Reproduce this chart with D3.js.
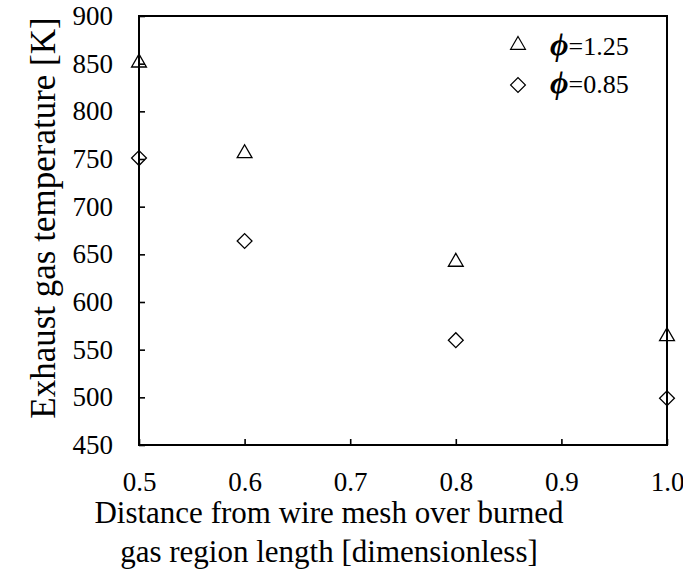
<!DOCTYPE html>
<html lang="en">
<head>
  <meta charset="UTF-8">
  <title>exhaust gas temperature</title>
  <style>
    body { margin: 0; background: #fff; }
    svg text { font-family: "Times New Roman", "Liberation Serif", "DejaVu Serif", serif; fill: #000; }
  </style>
</head>
<body>
<script src="https://cdn.jsdelivr.net/npm/d3@7"></script>
<script>
  // data
  var distance = [0.5, 0.6, 0.8, 1.0];
  var phi125 = [851, 756, 642, 564];
  var phi085 = [751, 664, 560, 499];
  var xTicks = [0.5, 0.6, 0.7, 0.8, 0.9, 1.0];
  var yTicks = [450, 500, 550, 600, 650, 700, 750, 800, 850, 900];
  var legendLabels = ["=1.25", "=0.85"];

  var serif = '"Times New Roman", "Liberation Serif", "DejaVu Serif", serif';

  var margin = {top: 16, right: 16, bottom: 131, left: 139}
  , width = 683 - margin.left - margin.right
  , height = 576 - margin.top - margin.bottom;

  var xScale = d3.scaleLinear().domain([0.5, 1.0]).range([0, width]);
  var yScale = d3.scaleLinear().domain([450, 900]).range([height, 0]);

  var svg = d3.select("body").append("svg")
    .attr("width", 683).attr("height", 576)
    .attr("font-family", serif)
    .append("g")
    .attr("transform", "translate(" + margin.left + "," + margin.top + ")");

  // frame
  svg.append("rect")
    .attr("width", width).attr("height", height)
    .attr("fill", "none").attr("stroke", "#000").attr("stroke-width", 2);

  var xAxis = svg.append("g")
    .attr("transform", "translate(0," + height + ")")
    .call(d3.axisBottom(xScale).tickValues(xTicks).tickSize(-6).tickPadding(27)
      .tickFormat(d3.format(".1f")));
  var yAxis = svg.append("g")
    .call(d3.axisLeft(yScale).tickValues(yTicks).tickSize(-6).tickPadding(26));

  [xAxis, yAxis].forEach(function(a){
    a.attr("font-family", serif).attr("font-size", 27);
    a.select(".domain").remove();
    a.selectAll("line").attr("stroke", "#000").attr("stroke-width", 1.6);
    a.selectAll("text").attr("font-family", serif).attr("font-size", 27);
  });

  var tri = d3.symbol().type(d3.symbolTriangle).size(95);
  var dia = d3.symbol().type(d3.symbolSquare).size(110);

  svg.selectAll(".tri").data(phi125).enter().append("path")
    .attr("class", "tri")
    .attr("d", tri)
    .attr("transform", function(d, i){ return "translate(" + xScale(distance[i]) + "," + yScale(d) + ")"; })
    .attr("fill", "none").attr("stroke", "#000").attr("stroke-width", 1.3);

  svg.selectAll(".dia").data(phi085).enter().append("path")
    .attr("class", "dia")
    .attr("d", dia)
    .attr("transform", function(d, i){ return "translate(" + xScale(distance[i]) + "," + yScale(d) + ") rotate(45)"; })
    .attr("fill", "none").attr("stroke", "#000").attr("stroke-width", 1.3);

  // legend
  var legend = [{sym: tri, rot: 0, cy: 45, base: 55}, {sym: dia, rot: 45, cy: 85, base: 93}];
  var lg = svg.selectAll(".lg").data(legend).enter().append("g")
    .attr("class", "lg")
    .attr("transform", function(d){ return "translate(" + (518 - margin.left) + ",0)"; });
  lg.append("path").attr("d", function(d){ return d.sym(); })
    .attr("transform", function(d){ return "translate(0," + (d.cy - margin.top) + ") rotate(" + d.rot + ")"; })
    .attr("fill", "none").attr("stroke", "#000").attr("stroke-width", 1.2);
  var lt = lg.append("text").attr("x", 32)
    .attr("y", function(d){ return d.base - margin.top; })
    .attr("font-size", 26);
  lt.append("tspan").text("\u03d5").attr("font-style", "italic").attr("font-weight", "bold").attr("font-size", 32);
  lt.append("tspan").text(function(d, i){ return legendLabels[i]; });

  // axis titles
  svg.append("text")
    .attr("transform", "translate(" + (55 - margin.left) + "," + (218 - margin.top) + ") rotate(-90)")
    .attr("text-anchor", "middle").attr("font-size", 35)
    .text("Exhaust gas temperature [K]");
  var xt = svg.append("text").attr("text-anchor", "middle").attr("font-size", 31);
  xt.append("tspan").attr("x", 329 - margin.left).attr("y", 523 - margin.top).text("Distance from wire mesh over burned");
  xt.append("tspan").attr("x", 329 - margin.left).attr("y", 562 - margin.top).text("gas region length [dimensionless]");
</script>
</body>
</html>
